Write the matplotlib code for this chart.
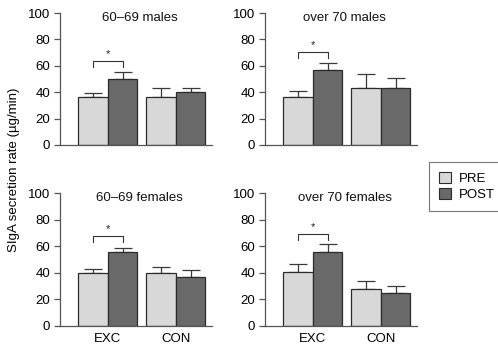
import numpy as np
import matplotlib
matplotlib.use("Agg")
import matplotlib.pyplot as plt
from matplotlib.patches import Patch

plt.rcParams["font.family"] = ["Liberation Sans", "DejaVu Sans"]

# === DATA ===
groups = ["EXC", "CON"]
panels = ["60\u201369 males", "over 70 males", "60\u201369 females", "over 70 females"]

pre_mean = [[36, 36.5], [36.5, 43], [39.5, 39.5], [40.5, 28]]
pre_err = [[3.5, 7], [4.5, 11], [3.5, 5], [6, 5.5]]
post_mean = [[50, 40.5], [57, 43], [56, 37], [56, 24.5]]
post_err = [[5, 3], [5, 8], [3, 5], [5.5, 5.5]]
bracket_y = [63.5, 70.5, 67.5, 69]

# === FIGURE ===
fig = plt.figure(figsize=(4.98, 3.46), dpi=100)
W, H = 498, 346
lefts = [60, 265]
tops = [13, 193]
bottoms = [145, 326]
width_px = 152

pre_color = "#d8d8d8"
post_color = "#696969"
edge = "#2b2b2b"
axis_col = "#555555"
bw = 0.434
x = np.arange(len(groups))

for k in range(4):
    r, c = divmod(k, 2)
    ax = fig.add_axes([lefts[c] / W, 1 - bottoms[r] / H,
                       width_px / W, (bottoms[r] - tops[r]) / H])
    ax.bar(x - bw / 2, pre_mean[k], bw, color=pre_color, edgecolor=edge, linewidth=0.9, zorder=2)
    ax.bar(x + bw / 2, post_mean[k], bw, color=post_color, edgecolor=edge, linewidth=0.9, zorder=2)
    ax.errorbar(x - bw / 2, pre_mean[k], yerr=[np.zeros(2), pre_err[k]], fmt="none",
                ecolor="#3a3a3a", elinewidth=0.9, capsize=6.5, capthick=0.9, zorder=1)
    ax.errorbar(x + bw / 2, post_mean[k], yerr=[np.zeros(2), post_err[k]], fmt="none",
                ecolor="#3a3a3a", elinewidth=0.9, capsize=6.5, capthick=0.9, zorder=1)

    # significance bracket over EXC
    by = bracket_y[k]
    ax.plot([-bw / 2, -bw / 2, bw / 2, bw / 2], [by - 4.5, by, by, by - 4.5],
            color="#333333", linewidth=0.8, clip_on=False)
    ax.text(0, by + 1.5, "*", ha="center", va="bottom", fontsize=8, color="#222222")

    ax.set_title(panels[k], fontsize=9.5, pad=-6, y=1.0, color="#111111", x=0.525)
    ax.set_xlim(-0.706, 1.53)
    ax.set_ylim(0, 100)
    ax.set_yticks([0, 20, 40, 60, 80, 100])
    ax.tick_params(axis="y", labelsize=9.5, length=4, width=0.9, color=axis_col, pad=3)
    ax.set_xticks(x)
    if r == 1:
        ax.set_xticklabels(groups, fontsize=9.5)
    else:
        ax.set_xticklabels([])
    ax.tick_params(axis="x", length=0, pad=5)
    for s in ["top", "right"]:
        ax.spines[s].set_visible(False)
    for s in ["left", "bottom"]:
        ax.spines[s].set_color(axis_col)
        ax.spines[s].set_linewidth(0.9)

fig.text(14 / W, 1 - 170 / H, "SIgA secretion rate (\u00b5g/min)", rotation=90,
         ha="center", va="center", fontsize=9.5)

handles = [Patch(facecolor=pre_color, edgecolor=edge, linewidth=0.8, label="PRE"),
           Patch(facecolor=post_color, edgecolor=edge, linewidth=0.8, label="POST")]
leg = fig.legend(handles=handles, loc="upper left", bbox_to_anchor=(429 / W, 1 - 162 / H),
                 fontsize=9.5, fancybox=False, handlelength=0.9, handleheight=0.9,
                 handletextpad=0.6, labelspacing=0.25, borderpad=0.75, borderaxespad=0)
leg.get_frame().set_edgecolor("#555555")
leg.get_frame().set_linewidth(0.8)

fig.savefig("out.png", dpi=100)
